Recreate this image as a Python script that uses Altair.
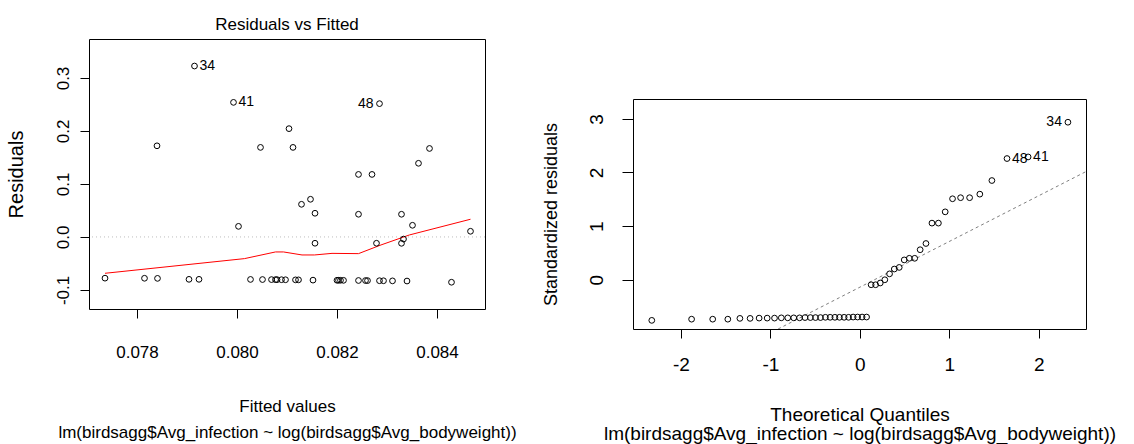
import altair as alt
import pandas as pd

FONT = "Liberation Sans"
SUB = "lm(birdsagg$Avg_infection ~ log(birdsagg$Avg_bodyweight))"

# ---------------- Residuals vs Fitted ----------------
fitted = [0.07915, 0.07993, 0.08285, 0.08104, 0.07840, 0.08047, 0.08112, 0.08385,
          0.08363, 0.08243, 0.08270, 0.08129, 0.08147, 0.08156, 0.08243, 0.08329,
          0.08351, 0.08003, 0.08467, 0.08156, 0.08279, 0.08329, 0.08333,
          0.07736, 0.07815, 0.07841, 0.07904, 0.07924, 0.08027, 0.08051, 0.08069,
          0.08077, 0.08080, 0.08089, 0.08097, 0.08117, 0.08123, 0.08152, 0.08200,
          0.08203, 0.08207, 0.08213, 0.08243, 0.08257, 0.08261, 0.08285, 0.08293,
          0.08311, 0.08340, 0.08429]
resid = [0.3226, 0.2540, 0.2516, 0.2044, 0.1720, 0.1690, 0.1690, 0.1670,
         0.1390, 0.1180, 0.1180, 0.0616, 0.0711, 0.0447, 0.0428, 0.0428,
         0.0220, 0.0200, 0.0107, -0.0119, -0.0119, -0.0120, -0.0040,
         -0.0778, -0.0780, -0.0782, -0.0800, -0.0800, -0.0802, -0.0804, -0.0805,
         -0.0806, -0.0806, -0.0807, -0.0808, -0.0810, -0.0810, -0.0815, -0.0818,
         -0.0818, -0.0818, -0.0819, -0.0822, -0.0823, -0.0824, -0.0826, -0.0827,
         -0.0829, -0.0832, -0.0855]
resid_ids = ["34", "41", "48"] + [""] * 47
resid_label_side = ["right", "right", "left"] + [""] * 47

lowess_x = [0.07736, 0.08015, 0.08077, 0.08093, 0.08130, 0.08155, 0.08190,
            0.08243, 0.08288, 0.08345, 0.08467]
lowess_y = [-0.0686, -0.0409, -0.0283, -0.0283, -0.0340, -0.0340, -0.0310,
            -0.0315, -0.0151, 0.0038, 0.0334]

# ---------------- Normal Q-Q ----------------
qq_theoretical = [-2.326, -1.881, -1.645, -1.476, -1.341, -1.227, -1.126, -1.036,
                  -0.954, -0.878, -0.806, -0.739, -0.674, -0.613, -0.553, -0.496,
                  -0.440, -0.385, -0.332, -0.279, -0.228, -0.176, -0.126, -0.075,
                  -0.025, 0.025, 0.075, 0.126, 0.176, 0.228, 0.279, 0.332, 0.385,
                  0.440, 0.496, 0.553, 0.613, 0.674, 0.739, 0.806, 0.878, 0.954,
                  1.036, 1.126, 1.227, 1.341, 1.476, 1.645, 1.881, 2.326]
qq_std_resid = [-0.757, -0.735, -0.735, -0.735, -0.720, -0.720, -0.715, -0.715,
                -0.715, -0.710, -0.710, -0.710, -0.710, -0.705, -0.705, -0.705,
                -0.705, -0.700, -0.700, -0.700, -0.700, -0.700, -0.700, -0.695,
                -0.695, -0.695, -0.695,
                -0.093, -0.093, -0.060, 0.000, 0.110, 0.200, 0.230, 0.370, 0.400,
                0.400, 0.560, 0.676, 1.056, 1.056, 1.266, 1.510, 1.530, 1.530,
                1.596, 1.850, 2.260, 2.290, 2.937]
qq_ids = [""] * 47 + ["48", "41", "34"]
qq_label_side = [""] * 47 + ["right", "right", "left"]

qq_line_x = [-0.914, 2.528]
qq_line_y = [-0.918, 2.017]

rv = pd.DataFrame({"fitted": fitted, "resid": resid, "id": resid_ids, "side": resid_label_side})
lw = pd.DataFrame({"x": lowess_x, "y": lowess_y})
qq = pd.DataFrame({"q": qq_theoretical, "s": qq_std_resid, "id": qq_ids, "side": qq_label_side})
ql = pd.DataFrame({"x": qq_line_x, "y": qq_line_y})

minus_fmt = "(datum.value < 0 ? '-' : '') + format(abs(datum.value), '{}')"

# ----- left panel -----
lx = alt.Scale(domain=[0.07704, 0.08496], nice=False, zero=False)
ly = alt.Scale(domain=[-0.136, 0.3736], nice=False, zero=False)

lx_axis = alt.Axis(values=[0.078, 0.080, 0.082, 0.084], labelExpr=minus_fmt.format(".3f"),
                   tickSize=9, labelPadding=26, labelFontSize=17, labelOverlap=False,
                   labelFlush=False, grid=False, domain=False,
                   title=["Fitted values", SUB], titleFontSize=17, titleFontWeight="normal",
                   titlePadding=38, titleLineHeight=26.5)
ly_axis = alt.Axis(values=[-0.1, 0.0, 0.1, 0.2, 0.3], labelExpr=minus_fmt.format(".1f"),
                   tickSize=9, labelPadding=8, labelFontSize=17, labelAngle=270,
                   labelAlign="center", labelBaseline="bottom", labelOverlap=False,
                   labelFlush=False, grid=False, domain=False,
                   title="Residuals", titleFontSize=20, titleFontWeight="normal", titlePadding=28)

base_l = alt.Chart(rv)
zero_rule = alt.Chart(pd.DataFrame({"y": [0.0]})).mark_rule(
    color="#bebebe", strokeDash=[1, 3], strokeWidth=1).encode(y=alt.Y("y:Q", scale=ly, axis=ly_axis))
red = alt.Chart(lw).mark_line(color="#ff0000", strokeWidth=1).encode(
    x=alt.X("x:Q", scale=lx, axis=lx_axis), y=alt.Y("y:Q", scale=ly, axis=ly_axis))
pts_l = base_l.mark_point(shape="circle", filled=False, size=33, color="black",
                          strokeWidth=1, opacity=1).encode(
    x=alt.X("fitted:Q", scale=lx, axis=lx_axis), y=alt.Y("resid:Q", scale=ly, axis=ly_axis))
lab_l_r = base_l.transform_filter("datum.side == 'right'").mark_text(
    align="left", baseline="middle", dx=5, fontSize=14, font=FONT, color="black").encode(
    x="fitted:Q", y="resid:Q", text="id:N")
lab_l_l = base_l.transform_filter("datum.side == 'left'").mark_text(
    align="right", baseline="middle", dx=-6, fontSize=14, font=FONT, color="black").encode(
    x="fitted:Q", y="resid:Q", text="id:N")

left = alt.layer(zero_rule, red, pts_l, lab_l_r, lab_l_l).properties(
    width=396, height=270,
    title=alt.TitleParams(text="Residuals vs Fitted", fontSize=17, fontWeight="normal",
                          font=FONT, offset=5, anchor="middle", color="black"))

# ----- right panel -----
rx = alt.Scale(domain=[-2.536, 2.528], nice=False, zero=False)
ry = alt.Scale(domain=[-0.918, 3.37], nice=False, zero=False)
rx_axis = alt.Axis(values=[-2, -1, 0, 1, 2], labelExpr=minus_fmt.format("d"),
                   tickSize=9, labelPadding=17, labelFontSize=19, labelOverlap=False,
                   labelFlush=False, grid=False, domain=False,
                   title=["Theoretical Quantiles", SUB], titleFontSize=19,
                   titleFontWeight="normal", titlePadding=31, titleLineHeight=19.5)
ry_axis = alt.Axis(values=[0, 1, 2, 3], format="d", tickSize=11, labelPadding=16,
                   labelFontSize=19, labelAngle=270, labelAlign="center",
                   labelBaseline="bottom", labelOverlap=False, labelFlush=False,
                   grid=False, domain=False,
                   title="Standardized residuals", titleFontSize=18,
                   titleFontWeight="normal", titlePadding=27)

base_r = alt.Chart(qq)
qline = alt.Chart(ql).mark_line(color="#7f7f7f", strokeDash=[3, 3], strokeWidth=1, clip=True).encode(
    x=alt.X("x:Q", scale=rx, axis=rx_axis), y=alt.Y("y:Q", scale=ry, axis=ry_axis))
pts_r = base_r.mark_point(shape="circle", filled=False, size=33, color="black",
                          strokeWidth=1, opacity=1).encode(
    x=alt.X("q:Q", scale=rx, axis=rx_axis), y=alt.Y("s:Q", scale=ry, axis=ry_axis))
lab_r_r = base_r.transform_filter("datum.side == 'right'").mark_text(
    align="left", baseline="middle", dx=5, fontSize=14, font=FONT, color="black").encode(
    x="q:Q", y="s:Q", text="id:N")
lab_r_l = base_r.transform_filter("datum.side == 'left'").mark_text(
    align="right", baseline="middle", dx=-6, fontSize=14, font=FONT, color="black").encode(
    x="q:Q", y="s:Q", text="id:N")

right = alt.layer(qline, pts_r, lab_r_r, lab_r_l).properties(width=453, height=230)

spacer = alt.Chart(pd.DataFrame({"a": [0]})).mark_point(opacity=0).encode(
    x=alt.value(0), y=alt.value(0)
).properties(width=453, height=58, view=alt.ViewBackground(stroke="transparent"))

right_col = alt.vconcat(spacer, right, spacing=0)

chart = alt.hconcat(left, right_col, spacing=24).properties(
    padding={"left": 5, "top": 15, "right": 0, "bottom": 0},
    background="white"
).configure_view(stroke="black", strokeWidth=1).configure_axis(
    domain=False, grid=False, tickColor="black", tickWidth=1, labelColor="black",
    titleColor="black", labelFont=FONT, titleFont=FONT, titleFontWeight="normal"
)

chart.save("out.html", embed_options={"renderer": "svg", "actions": False})
